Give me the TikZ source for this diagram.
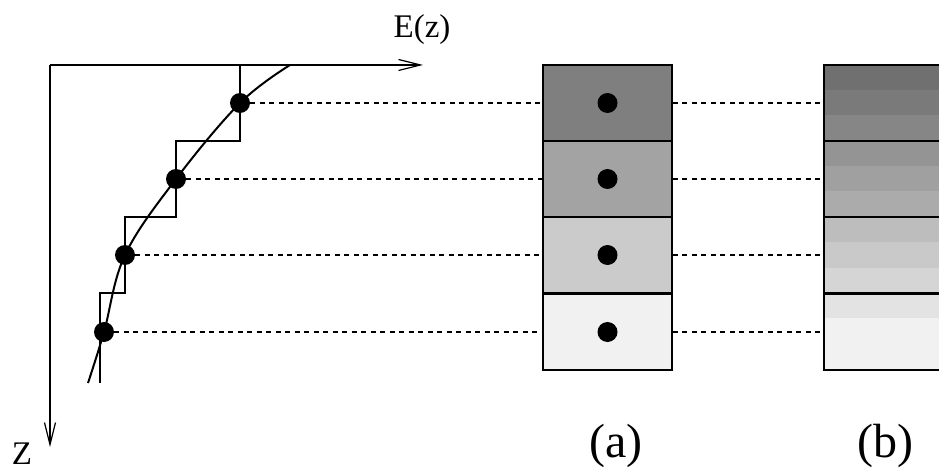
\documentclass[tikz,border=0pt]{standalone}
\usepackage{fontspec}
\setmainfont{Liberation Serif}
\usetikzlibrary{arrows.meta}

\definecolor{ca1}{HTML}{7F7F7F}
\definecolor{ca2}{HTML}{A3A3A3}
\definecolor{ca3}{HTML}{CBCBCB}
\definecolor{ca4}{HTML}{F1F1F1}
\definecolor{cb1}{HTML}{707070}
\definecolor{cb2}{HTML}{7A7A7A}
\definecolor{cb3}{HTML}{868686}
\definecolor{cb4}{HTML}{949494}
\definecolor{cb5}{HTML}{A0A0A0}
\definecolor{cb6}{HTML}{ABABAB}
\definecolor{cb7}{HTML}{BDBDBD}
\definecolor{cb8}{HTML}{C9C9C9}
\definecolor{cb9}{HTML}{D5D5D5}
\definecolor{cb10}{HTML}{E3E3E3}
\definecolor{cb11}{HTML}{F1F1F1}

\tikzset{
  axis/.style={line width=1.4pt, -{Straight Barb[length=22pt,width=11pt,line width=1.2pt]}},
  stair/.style={line width=1.4pt},
  curve/.style={line width=2pt},
  dot/.style={circle, fill=black, inner sep=0pt, minimum size=20pt},
  cellA/.style={draw, line width=1.6pt, minimum width=129pt, minimum height=76pt, inner sep=0pt},
  cellB/.style={draw, line width=1.6pt, minimum width=122pt, minimum height=76pt, inner sep=0pt, anchor=west},
  conn/.style={line width=1.4pt, dash pattern=on 5pt off 4.5pt},
  lab/.style={anchor=base, inner sep=0pt},
}

\begin{document}
\begin{tikzpicture}[x=1pt, y=-1pt]
\clip (0,0) rectangle (939,473);
\fill[white] (0,0) rectangle (939,473);

% axes
\coordinate (O) at (50,65);
\coordinate (xend) at (423,65);
\coordinate (zend) at (50,447);
\draw[axis] (O) -- (xend);
\draw[axis] (O) -- (zend);
\node[lab, font=\fontsize{33}{33}\selectfont] (Elab) at (422,38) {E(z)};
\node[lab, font=\fontsize{33}{33}\selectfont] (Zlab) at (22,464) {Z};

% piecewise constant approximation
\draw[stair] (240,65) -- (240,141) -- (176,141) -- (176,217) -- (125,217)
  -- (125,293) -- (100,293) -- (100,383);

% continuous profile
\draw[curve] plot[smooth, tension=0.6] coordinates
  {(290,65) (240,103) (176,179) (125,255) (104,332) (88,383)};

% sample points on the profile
\node[dot] (p1) at (240,103) {};
\node[dot] (p2) at (176,179) {};
\node[dot] (p3) at (125,255) {};
\node[dot] (p4) at (104,332) {};

% column (a): one value per layer
\node[cellA, fill=ca1] (a1) at (607.5,103) {};
\node[cellA, fill=ca2] (a2) at (607.5,179) {};
\node[cellA, fill=ca3] (a3) at (607.5,255) {};
\node[cellA, fill=ca4] (a4) at (607.5,332) {};
\foreach \i in {1,...,4} { \node[dot] (q\i) at (a\i) {}; }

% column (b): refined sub-layers
\fill[cb1]  (823,65)  rectangle (945,90);
\fill[cb2]  (823,90)  rectangle (945,115);
\fill[cb3]  (823,115) rectangle (945,141);
\fill[cb4]  (823,141) rectangle (945,166);
\fill[cb5]  (823,166) rectangle (945,191);
\fill[cb6]  (823,191) rectangle (945,217);
\fill[cb7]  (823,217) rectangle (945,242);
\fill[cb8]  (823,242) rectangle (945,268);
\fill[cb9]  (823,268) rectangle (945,293);
\fill[cb10] (823,293) rectangle (945,318);
\fill[cb11] (823,318) rectangle (945,370);
\node[cellB] (b1) at (823,103) {};
\node[cellB] (b2) at (823,179) {};
\node[cellB] (b3) at (823,255) {};
\node[cellB] (b4) at (823,332) {};

% connectors
\foreach \i in {1,...,4} {
  \draw[conn] (p\i.east) -- (a\i.west);
  \draw[conn] (a\i.east) -- (b\i.west);
}

\node[lab, font=\fontsize{48}{48}\selectfont] (la) at (616,457) {(a)};
\node[lab, font=\fontsize{48}{48}\selectfont] (lb) at (885,457) {(b)};
\end{tikzpicture}
\end{document}
